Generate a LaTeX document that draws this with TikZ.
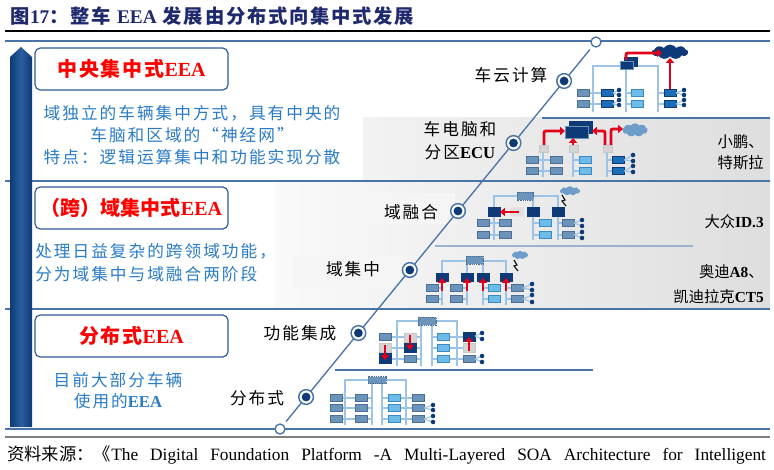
\documentclass[tikz,border=0pt]{standalone}
\usepackage{fontspec}
\setmainfont{Liberation Serif}
\newfontfamily\cjk{Noto Sans CJK SC}
\newfontfamily\cjkwide[LetterSpace=12]{Noto Sans CJK SC}
\newfontfamily\cjkhead[LetterSpace=9]{Noto Sans CJK SC}
\usetikzlibrary{arrows.meta,shapes.symbols}

\definecolor{titleblue}{HTML}{1F2A6E}
\definecolor{bandblue}{HTML}{4A73A8}
\definecolor{boxblue}{HTML}{2F5C94}
\definecolor{navy}{HTML}{0E3A78}
\definecolor{barmid}{HTML}{2A5E9E}
\definecolor{midblue}{HTML}{1C6DB8}
\definecolor{steel}{HTML}{6C93BA}
\definecolor{steeldk}{HTML}{4A6F96}
\definecolor{skyblue}{HTML}{6CBBE8}
\definecolor{skydk}{HTML}{3A8AC4}
\definecolor{wireblue}{HTML}{9DC3E6}
\definecolor{alarm}{HTML}{E2001A}
\definecolor{txtblue}{HTML}{2A7CC7}
\definecolor{cloudblue}{HTML}{6E9CCB}

\tikzset{
  wire/.style={draw=wireblue, line width=0.8pt},
  ecu/.style={draw=steeldk, fill=steel, line width=0.4pt},
  ecusky/.style={draw=skydk, fill=skyblue, line width=0.4pt},
  ecumid/.style={draw=navy, fill=midblue, line width=0.4pt},
  ecunavy/.style={draw=navy, fill=navy, line width=0.4pt},
  ecugray/.style={draw=black!22, fill=black!17, line width=0.4pt},
  gate/.style={draw=steeldk, fill=steel, dash pattern=on 1pt off 0.7pt, line width=0.5pt},
  hot/.style={draw=alarm, line width=2.2pt, rounded corners=1.5pt, -{Triangle[length=3.6pt,width=6pt]}},
  band/.style={draw=bandblue, line width=1pt},
  ring/.style={circle, draw=bandblue, line width=1.1pt, fill=white, minimum size=11pt, inner sep=0pt,
    path picture={\fill[navy] (path picture bounding box.center) circle (3.3pt);}},
  endring/.style={circle, draw=bandblue, line width=1pt, fill=white, minimum size=7.5pt, inner sep=0pt},
  eeabox/.style={draw=boxblue, line width=0.9pt, rounded corners=4pt, fill=white,
    minimum width=144.75pt, minimum height=31.5pt, text=red},
  note/.style={text=txtblue, inner sep=0pt},
  stage/.style={font=\cjkwide\fontsize{12.5}{17}\selectfont, inner sep=0pt, align=center},
  car/.style={inner sep=0pt, anchor=east, align=right},
  puff/.style={cloud, cloud puffs=9, cloud puff arc=110, cloud ignores aspect, inner sep=0pt}
}

\begin{document}
\begin{tikzpicture}[x=0.75pt,y=-0.75pt]
\useasboundingbox (0,0) rectangle (774,470);
\fill[white] (0,0) rectangle (774,470);

% backgrounds
\shade[left color=black!5, right color=black!13] (363,118) rectangle (770,181);
\shade[left color=black!2, right color=black!13] (275,181) rectangle (770,309);
\fill[black!4] (338,193) rectangle (455,224);
\fill[black!4] (293,256) rectangle (400,288);

% title and rules
\node[anchor=west, text=titleblue, font=\cjkhead\bfseries\fontsize{14.5}{16}\selectfont] (title) at (6,16)
  {图{\rmfamily 17}：整车 {\rmfamily EEA} 发展由分布式向集中式发展};
\draw[black, line width=0.8pt] (5,31) -- (770,31);
\draw[band] (5,41) -- (770,41);
\draw[band] (5,181) -- (770,181);
\draw[band] (5,309) -- (770,309);
\draw[band] (5,429) -- (770,429);
\draw[band] (542,118) -- (770,118);
\draw[band, draw=bandblue!55] (435,246) -- (693,246);
\draw[band] (335,370) -- (593,370);
\draw[black!50, line width=1.5pt] (5,437) -- (770,437);

% left bar
\shade[left color=navy, right color=navy, middle color=barmid] (10,427) -- (10,57) -- (21,47) -- (32,57) -- (32,427) -- cycle;

% stage boxes and notes
\node[eeabox, font=\cjkhead\bfseries\fontsize{15}{18}\selectfont] (eea1) at (131.5,69) {中央集中式{\rmfamily EEA}};
\node[eeabox, font=\cjk\bfseries\fontsize{15}{18}\selectfont] (eea2) at (131.5,208) {（跨）域集中式{\rmfamily EEA}};
\node[eeabox, font=\cjkhead\bfseries\fontsize{15}{18}\selectfont] (eea3) at (131.5,336) {分布式{\rmfamily EEA}};
\node[note, align=center, font=\cjkwide\fontsize{12.5}{16.5}\selectfont] (note1) at (192,135)
  {域独立的车辆集中方式，具有中央的\\车脑和区域的“神经网”\\特点：逻辑运算集中和功能实现分散};
\node[note, align=left, anchor=west, font=\cjkwide\fontsize{12.5}{17.25}\selectfont] (note2) at (35,262.5)
  {处理日益复杂的跨领域功能，\\分为域集中与域融合两阶段};
\node[note, align=center, font=\cjkwide\fontsize{12.5}{15.75}\selectfont] (note3) at (118,390.5)
  {目前大部分车辆\\使用的{\rmfamily\bfseries EEA}};

% timeline
\node[endring] (s0) at (280,429) {};
\node[endring] (s7) at (596,42) {};
\draw[bandblue, line width=1pt, shorten <=3pt, shorten >=3pt] (s0) -- (s7);
\node[ring] (s1) at (306.1,397) {};
\node[ring] (s2) at (358.4,333) {};
\node[ring] (s3) at (409.8,270) {};
\node[ring] (s4) at (458,211) {};
\node[ring] (s5) at (513.5,143) {};
\node[ring] (s6) at (564.1,81) {};
\node[stage] (l1) at (257,398) {分布式};
\node[stage] (l2) at (300,333) {功能集成};
\node[stage] (l3) at (353,269) {域集中};
\node[stage] (l4) at (411,212) {域融合};
\node[stage] (l5) at (460,140.5) {车电脑和\\分区{\rmfamily\bfseries ECU}};
\node[stage] (l6) at (511,75) {车云计算};

% car makers
\node[car, font=\cjk\fontsize{11.5}{15.75}\selectfont] (car1) at (764,152.5) {小鹏、\\特斯拉};
\node[car, font=\cjk\fontsize{11.5}{15}\selectfont] (car2) at (764,222) {大众{\rmfamily\bfseries ID.3}};
\node[car, font=\cjk\fontsize{11.5}{18.75}\selectfont] (car3) at (764,284.5) {奥迪{\rmfamily\bfseries A8}、\\凯迪拉克{\rmfamily\bfseries CT5}};

% distributed
\draw[wire] (345,425) -- (345,380) -- (406,380) -- (406,425);
\draw[wire] (372,425) -- (372,380) (382,425) -- (382,380);
\foreach \y in {398,408,419} {
  \draw[wire] (336,\y) -- (372,\y) (382,\y) -- (418,\y);
  \filldraw[ecu] (330,\y-3.5) rectangle ++(12,7);
  \filldraw[ecu] (355,\y-3.5) rectangle ++(12,7);
  \filldraw[ecusky] (388,\y-3.5) rectangle ++(12,7);
  \filldraw[ecu] (412,\y-3.5) rectangle ++(12,7);
}
\filldraw[gate] (368,376.5) rectangle ++(18,7);
\foreach \a/\b in {408/405,408/410,419/416,419/422} {
  \draw[wire] (424,\a) -- (433,\b);
  \fill[navy] (433,\b) circle (1.7pt);
}

% function integration
\draw[wire] (397,366) -- (397,321) -- (457,321) -- (457,366);
\draw[wire] (421,366) -- (421,321) (432,366) -- (432,321);
\foreach \y in {337,348,359} {
  \draw[wire] (385,\y) -- (421,\y) (432,\y) -- (468,\y);
  \filldraw[ecusky] (437,\y-3.5) rectangle ++(12,7);
}
\filldraw[ecu] (379,333.5) rectangle ++(12,7);
\filldraw[ecugray] (379,343) rectangle ++(12,9);
\filldraw[ecunavy] (379,353) rectangle ++(12,10);
\filldraw[ecugray] (404,333) rectangle ++(12,9);
\filldraw[ecunavy] (404,343) rectangle ++(12,9);
\filldraw[ecu] (404,355.5) rectangle ++(12,7);
\filldraw[ecunavy] (463,332) rectangle ++(12,9);
\filldraw[ecugray] (463,343) rectangle ++(12,9);
\filldraw[ecu] (463,355.5) rectangle ++(12,7);
\filldraw[gate] (418,317) rectangle ++(18,8);
\draw[hot] (385,345) -- (385,360);
\draw[hot] (410,335) -- (410,350);
\draw[hot] (469,351) -- (469,337);
\foreach \a/\b in {336/333,336/339,359/356,359/362} {
  \draw[wire] (475,\a) -- (482,\b);
  \fill[navy] (482,\b) circle (1.7pt);
}

% domain centralization
\draw[wire] (442,305) -- (442,261) -- (506,261) -- (506,305);
\draw[wire] (467,305) -- (467,261) (483,305) -- (483,261);
\filldraw[gate] (466,256) rectangle ++(17,8);
\foreach \y in {288,299} {
  \draw[wire] (432,\y) -- (442,\y) (456,\y) -- (467,\y) (483,\y) -- (493,\y) (506,\y) -- (517,\y);
  \filldraw[ecu] (426,\y-3.5) rectangle ++(12,7);
  \filldraw[ecu] (450,\y-3.5) rectangle ++(12,7);
  \filldraw[ecusky] (488,\y-3.5) rectangle ++(12,7);
  \filldraw[ecu] (511,\y-3.5) rectangle ++(12,7);
}
\foreach \x in {442,467,483,506} {
  \filldraw[ecunavy] (\x-6,273) rectangle ++(12,8);
  \draw[hot] (\x,291) -- (\x,278);
}
\foreach \a/\b in {288/284,288/290,299/295,299/302} {
  \draw[wire] (523,\a) -- (532,\b);
  \fill[navy] (532,\b) circle (1.7pt);
}
\node[puff, fill=cloudblue, minimum width=12pt, minimum height=6.5pt] (cl4) at (520,255) {};
\draw[black, line width=0.8pt] (514,260) -- (517,265) -- (514,266) -- (518,271);

% domain fusion
\draw[wire] (494,240) -- (494,196) -- (558,196) -- (558,240);
\draw[wire] (533,240) -- (533,196);
\filldraw[gate] (517,192) rectangle ++(16,8);
\foreach \x in {494,533,558} \filldraw[ecunavy] (\x-6,207.5) rectangle ++(12,9);
\filldraw[draw=black!10, fill=black!12] (510,207.5) rectangle ++(13,9);
\draw[hot] (519,212) -- (500,212);
\foreach \y in {223,235} {
  \draw[wire] (483,\y) -- (505,\y) (533,\y) -- (545,\y) (558,\y) -- (568,\y);
  \filldraw[ecu] (477,\y-3.5) rectangle ++(12,7);
  \filldraw[ecu] (499,\y-3.5) rectangle ++(12,7);
  \filldraw[ecusky] (539,\y-3.5) rectangle ++(12,7);
  \filldraw[ecu] (562,\y-3.5) rectangle ++(12,7);
}
\foreach \a/\b in {223/220,223/226,235/232,235/238} {
  \draw[wire] (574,\a) -- (582,\b);
  \fill[navy] (582,\b) circle (1.7pt);
}
\node[puff, fill=cloudblue, minimum width=15pt, minimum height=7pt] (cl3) at (570,191) {};
\draw[black, line width=0.8pt] (562,195) -- (565,200) -- (562,201) -- (566,206);

% car computer and zones
\draw[wire] (543,151) -- (543,177) (573,151) -- (573,177) (607,151) -- (607,177);
\foreach \y in {160,171} {
  \draw[wire] (532,\y) -- (556,\y) (573,\y) -- (585,\y) (607,\y) -- (618,\y);
  \filldraw[ecu] (526,\y-3.5) rectangle ++(12,7);
  \filldraw[ecu] (550,\y-3.5) rectangle ++(12,7);
  \filldraw[ecusky] (579,\y-3.5) rectangle ++(12,7);
  \filldraw[ecumid] (612,\y-3.5) rectangle ++(12,7);
}
\foreach \a/\b in {160/155,160/161,171/166,171/172} {
  \draw[wire] (624,\a) -- (633,\b);
  \fill[navy] (633,\b) circle (1.7pt);
}
\foreach \x in {539,569,603} \filldraw[ecugray] (\x,145) rectangle ++(9,7);
\filldraw[ecunavy] (569,121) rectangle (592,133);
\filldraw[ecunavy, draw=steel] (565,126) rectangle (588,138);
\node[puff, fill=cloudblue, minimum width=19pt, minimum height=10pt] (cl2) at (635,130) {};
\draw[hot] (544,145) |- (565,131);
\draw[hot] (573,145) -- (573,138);
\draw[hot] (605,145) |- (592,131);
\draw[hot] (611,145) |- (623,129);

% vehicle-cloud computing
\draw[wire] (593,112) -- (593,66) -- (658,66) -- (658,112);
\draw[wire] (626,112) -- (626,69);
\foreach \y in {93,104} {
  \draw[wire] (583,\y) -- (607,\y) (626,\y) -- (637,\y) (658,\y) -- (670,\y);
  \filldraw[ecu] (577,\y-3.5) rectangle ++(12,7);
  \filldraw[ecumid] (601,\y-3.5) rectangle ++(12,7);
  \filldraw[ecusky] (631,\y-3.5) rectangle ++(12,7);
  \filldraw[ecumid] (664,\y-3.5) rectangle ++(12,7);
}
\foreach \a/\b in {93/90,93/95,104/100,104/105} {
  \draw[wire] (613,\a) -- (619,\b);
  \fill[navy] (619,\b) circle (1.7pt);
  \draw[wire] (676,\a) -- (684,\b);
  \fill[navy] (684,\b) circle (1.7pt);
}
\filldraw[ecunavy] (624,57) rectangle (637,66);
\filldraw[ecunavy, draw=steel] (620,61) rectangle (633,69);
\node[puff, fill=navy, minimum width=27pt, minimum height=11pt] (cl1) at (670,52) {};
\draw[hot] (626,60) |- (662,53);
\draw[hot] (670,89.5) -- (670,58);

% source
\node[anchor=west, inner sep=0pt, font=\fontsize{13}{15}\selectfont] (src) at (7,455)
  {\makebox[569pt][s]{{\cjk 资料来源：《}The Digital Foundation Platform -A Multi-Layered SOA Architecture for Intelligent}};
\end{tikzpicture}
\end{document}
